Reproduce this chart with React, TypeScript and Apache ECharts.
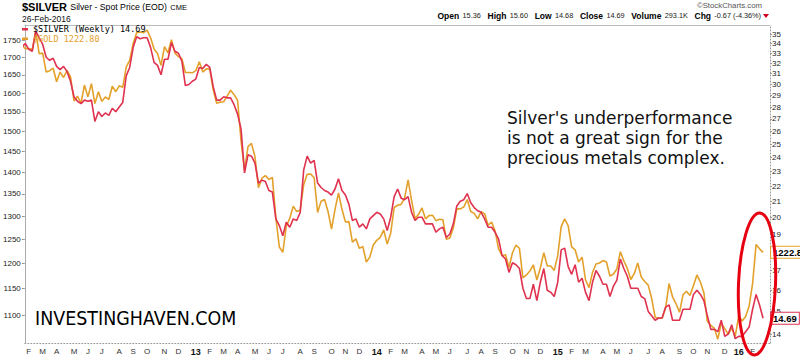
import React, { useEffect, useRef } from "react";
import * as echarts from "echarts";

// Weekly closes, week ending Fri 27-Jan-2012 ... Fri 26-Feb-2016
const silver = [
  // 2012
  33.6, 34.0, 33.4, 33.2, 35.3, 34.6, 33.9, 32.6, 32.3, 32.5, 31.7, 31.4, 31.7, 31.2, 30.3, 28.9, 28.5, 28.3, 28.6, 28.5,
  28.6, 26.8, 27.6, 27.2, 27.5, 27.3, 27.9, 27.6, 28.0, 28.4, 30.8, 31.6, 33.6, 34.7, 34.5, 34.6, 34.6, 33.6, 32.1, 31.8,
  30.9, 32.4, 32.4, 34.1, 33.2, 33.0, 32.2, 29.9, 30.0,
  // 2013
  30.3, 30.5, 31.6, 31.5, 31.9, 31.6, 29.8, 28.6, 28.6, 28.9, 28.8, 28.8, 28.2, 27.4, 26.2, 22.9, 24.2, 24.1, 23.6, 22.2,
  22.4, 22.3, 21.7, 21.6, 19.9, 19.5, 18.9, 19.7, 19.4, 19.9, 19.8, 20.3, 23.1, 24.1, 23.6, 23.8, 22.2, 21.9, 21.7, 21.6,
  21.4, 21.8, 22.5, 21.7, 21.4, 20.8, 19.8, 19.9, 19.4, 19.6, 19.3, 19.9,
  // 2014
  20.1, 20.3, 20.2, 19.9, 19.2, 20.0, 21.3, 21.8, 21.2, 21.1, 21.3, 20.3, 19.8, 20.0, 20.0, 19.6, 19.6, 19.6, 19.1, 19.3,
  19.4, 18.8, 19.0, 19.6, 20.7, 21.0, 21.1, 21.5, 20.9, 20.6, 20.4, 20.3, 19.9, 19.4, 19.4, 19.1, 18.7, 17.8, 17.6, 16.9,
  17.4, 17.3, 17.1, 16.1, 15.6, 15.6, 16.3, 15.5, 16.4, 17.1, 16.0, 15.9,
  // 2015
  15.7, 16.4, 18.1, 18.2, 17.2, 16.8, 17.3, 16.4, 16.6, 15.9, 15.5, 16.4, 17.0, 16.7, 16.3, 16.3, 15.7, 16.2, 16.5, 17.6,
  17.1, 16.7, 16.1, 16.1, 16.1, 15.7, 15.6, 15.0, 14.8, 14.6, 14.7, 14.7, 15.2, 15.3, 14.6, 14.6, 14.6, 15.1, 15.1, 15.1,
  15.8, 16.0, 15.8, 15.5, 14.8, 14.2, 14.2, 14.1, 14.6, 13.9, 14.0, 14.4,
  // 2016
  13.8, 13.9, 13.9, 14.1, 14.3, 15.1, 15.8, 15.3, 14.69,
];

const gold = [
  // 2012
  1737, 1725, 1725, 1723, 1776, 1710, 1712, 1658, 1662, 1669, 1631, 1658, 1643, 1663, 1645, 1579, 1592, 1573, 1622, 1590,
  1626, 1572, 1604, 1578, 1590, 1583, 1619, 1604, 1620, 1616, 1672, 1691, 1740, 1772, 1774, 1772, 1780, 1757, 1724, 1711,
  1677, 1731, 1713, 1751, 1712, 1702, 1696, 1657, 1657,
  // 2013
  1656, 1662, 1687, 1658, 1667, 1667, 1609, 1573, 1576, 1577, 1592, 1608, 1596, 1581, 1476, 1405, 1462, 1470, 1437, 1364,
  1386, 1392, 1383, 1388, 1297, 1234, 1223, 1278, 1295, 1322, 1310, 1313, 1371, 1395, 1396, 1387, 1308, 1333, 1337, 1310,
  1272, 1315, 1352, 1315, 1287, 1288, 1244, 1251, 1231, 1235, 1203, 1213,
  // 2014
  1238, 1248, 1254, 1270, 1240, 1263, 1319, 1324, 1326, 1340, 1382, 1335, 1294, 1304, 1318, 1294, 1301, 1302, 1290, 1293,
  1292, 1250, 1253, 1274, 1316, 1316, 1320, 1337, 1310, 1306, 1294, 1310, 1305, 1280, 1287, 1268, 1230, 1216, 1218, 1192,
  1222, 1238, 1231, 1171, 1177, 1185, 1197, 1167, 1191, 1222, 1195, 1195,
  // 2015
  1186, 1216, 1277, 1294, 1279, 1234, 1228, 1203, 1213, 1167, 1152, 1182, 1199, 1201, 1206, 1203, 1175, 1179, 1189, 1224,
  1205, 1190, 1168, 1180, 1201, 1173, 1164, 1157, 1131, 1096, 1094, 1094, 1113, 1160, 1134, 1121, 1105, 1138, 1145, 1137,
  1156, 1177, 1163, 1142, 1088, 1081, 1076, 1056, 1085, 1075, 1065, 1076,
  // 2016
  1061, 1098, 1089, 1097, 1117, 1160, 1239, 1230, 1222.8,
];

const goldTicks = [1100, 1150, 1200, 1250, 1300, 1350, 1400, 1450, 1500, 1550, 1600, 1650, 1700, 1750];
const silverTicks = [14, 15, 16, 17, 18, 19, 20, 21, 22, 23, 24, 25, 26, 27, 28, 29, 30, 31, 32, 33, 34, 35];
const monthLetters = ["J", "F", "M", "A", "M", "J", "J", "A", "S", "O", "N", "D"];

const silverName = "$SILVER (Weekly) 14.69";
const goldName = "$GOLD 1222.80";
const silverLast = "14.69";
const goldLast = "1222.80";

const SILVER_COLOR = "#e0324f";
const GOLD_COLOR = "#e3a12b";
const DAY = 86400000;
const firstWeekEnd = Date.UTC(2012, 0, 27);
// each weekly bar is plotted at the Monday that starts its week
const weekDates = silver.map((_, i) => firstWeekEnd + (i * 7 - 4) * DAY);
const xMin = Date.UTC(2012, 0, 29);
const xMax = Date.UTC(2016, 2, 7);

// month ticks: first weekly point of each month
const monthTicks: number[] = [];
const monthLabel = new Map<number, string>();
weekDates.forEach((t, i) => {
  if (i === 0) return;
  const d = new Date(t);
  const p = new Date(weekDates[i - 1]);
  if (d.getUTCMonth() !== p.getUTCMonth()) {
    monthTicks.push(t);
    const m = d.getUTCMonth();
    monthLabel.set(
      t,
      m === 0 ? `{y|${String(d.getUTCFullYear()).slice(2)}}` : monthLetters[m]
    );
  }
});

const FONT = "'Liberation Sans', Arial, sans-serif";

const findLabel = (v: number) => {
  let best = "";
  let bd = Infinity;
  monthTicks.forEach((t) => {
    const d = Math.abs(t - v);
    if (d < bd) {
      bd = d;
      best = monthLabel.get(t) || "";
    }
  });
  return bd < DAY ? best : "";
};

export default function App() {
  const ref = useRef<HTMLDivElement>(null);
  useEffect(() => {
    const chart = echarts.init(ref.current!, null, { renderer: "svg" });
    const goldLn = goldTicks.map((v) => Math.log(v));
    const silverLn = silverTicks.map((v) => Math.log(v));
    const option: any = {
      animation: false,
      textStyle: { fontFamily: FONT },
      grid: { left: 22, right: 30, top: 25, bottom: 14, containLabel: false },
      legend: {
        orient: "vertical",
        left: 22,
        top: 24.5,
        padding: 0,
        itemGap: 0,
        itemWidth: 6,
        itemHeight: 2.5,
        icon: "rect",
        selectedMode: false,
        textStyle: { fontFamily: "'DejaVu Sans Mono', monospace", fontSize: 8.5, lineHeight: 9.5 },
        data: [
          { name: silverName, textStyle: { color: "#000" } },
          { name: goldName, textStyle: { color: GOLD_COLOR } },
        ],
      },
      xAxis: [
        {
          type: "value",
          min: xMin,
          max: xMax,
          axisLine: { show: true, lineStyle: { color: "#999", type: [1, 2] } },
          axisTick: { show: false },
          splitLine: { show: false },
          axisLabel: {
            customValues: monthTicks,
            formatter: (v: number) => findLabel(v),
            fontSize: 8,
            color: "#333",
            margin: 4,
            hideOverlap: false,
            rich: { y: { fontWeight: "bold", fontSize: 9, color: "#111" } },
          },
        },
        {
          type: "value",
          position: "top",
          min: xMin,
          max: xMax,
          axisLine: { show: true, lineStyle: { color: "#bbb" } },
          axisTick: { show: false },
          axisLabel: { show: false },
          splitLine: { show: false },
        },
      ],
      yAxis: [
        {
          type: "value",
          position: "left",
          min: 6.95577,
          max: 7.49293,
          axisLine: { show: true, lineStyle: { color: "#aaa" } },
          axisTick: { show: true, length: 3, customValues: goldLn, lineStyle: { color: "#999" } },
          splitLine: { show: false },
          axisLabel: {
            customValues: goldLn,
            formatter: (v: number) => String(Math.round(Math.exp(v))),
            fontSize: 8,
            color: "#222",
            margin: 4,
          },
        },
        {
          type: "value",
          position: "right",
          min: 2.61157,
          max: 3.58284,
          axisLine: { show: true, lineStyle: { color: "#999", type: [1, 2] } },
          axisTick: { show: true, length: 2, customValues: silverLn, lineStyle: { color: "#999" } },
          splitLine: { show: false },
          axisLabel: {
            customValues: silverLn,
            formatter: (v: number) => String(Math.round(Math.exp(v))),
            fontSize: 8,
            color: "#222",
            margin: 2,
          },
        },
      ],
      series: [
        {
          name: goldName,
          type: "line",
          yAxisIndex: 0,
          xAxisIndex: 0,
          showSymbol: false,
          symbol: "none",
          color: GOLD_COLOR,
          lineStyle: { width: 1.6, color: GOLD_COLOR },
          data: gold.map((v, i) => [weekDates[i], Math.log(v)]),
          endLabel: {
            show: true,
            formatter: goldLast,
            distance: 8,
            backgroundColor: "#fff",
            borderColor: GOLD_COLOR,
            borderWidth: 1,
            padding: [1, 2, 0, 2],
            fontSize: 9.5,
            fontWeight: "bold",
            color: "#000",
          },
        },
        {
          name: silverName,
          type: "line",
          yAxisIndex: 1,
          xAxisIndex: 0,
          showSymbol: false,
          symbol: "none",
          color: SILVER_COLOR,
          lineStyle: { width: 1.6, color: SILVER_COLOR },
          data: silver.map((v, i) => [weekDates[i], Math.log(v)]),
          endLabel: {
            show: true,
            formatter: silverLast,
            distance: 8,
            backgroundColor: "#fff",
            borderColor: SILVER_COLOR,
            borderWidth: 1,
            padding: [1, 2, 0, 2],
            fontSize: 9.5,
            fontWeight: "bold",
            color: "#000",
          },
        },
      ],
      graphic: [
        {
          type: "text",
          x: 22,
          y: 7,
          style: {
            text: "{a|$SILVER} {b|Silver - Spot Price (EOD)} {c|CME}",
            verticalAlign: "middle",
            rich: {
              a: { fontFamily: FONT, fontSize: 11, fontWeight: "bold", fill: "#000" },
              b: { fontFamily: FONT, fontSize: 8.7, fill: "#000" },
              c: { fontFamily: FONT, fontSize: 7.5, fill: "#000" },
            },
          },
        },
        {
          type: "text",
          x: 22,
          y: 18.5,
          style: { text: "26-Feb-2016", font: `8.5px ${FONT}`, fill: "#111", verticalAlign: "middle" },
        },
        {
          type: "text",
          x: 762,
          y: 5,
          style: { text: "©StockCharts.com", font: `7.8px ${FONT}`, fill: "#555", align: "right", verticalAlign: "middle" },
        },
        {
          type: "text",
          x: 761,
          y: 15.5,
          style: {
            text:
              "{l|Open} {v|15.36}  {l|High} {v|15.60}  {l|Low} {v|14.68}  {l|Close} {v|14.69}  {l|Volume} {v|293.1K}  {l|Chg} {v|-0.67 (-4.36%)}",
            align: "right",
            verticalAlign: "middle",
            rich: {
              l: { fontFamily: FONT, fontSize: 8.5, fontWeight: "bold", fill: "#000" },
              v: { fontFamily: FONT, fontSize: 7.3, fill: "#222" },
            },
          },
        },
        {
          type: "polygon",
          shape: { points: [[763, 14], [769, 14], [766, 18]] },
          style: { fill: "#d0021b" },
        },
        {
          type: "text",
          x: 507,
          y: 108,
          style: {
            text: "Silver's underperformance\nis not a great sign for the\nprecious metals complex.",
            font: "17px 'DejaVu Sans', sans-serif",
            lineHeight: 20,
            fill: "#111",
            verticalAlign: "top",
          },
        },
        {
          type: "text",
          x: 35,
          y: 318,
          scaleX: 0.92,
          style: {
            text: "INVESTINGHAVEN.COM",
            font: "19px 'DejaVu Sans', sans-serif",
            fill: "#000",
            verticalAlign: "middle",
          },
        },
        {
          type: "ellipse",
          x: 757,
          y: 284,
          rotation: -0.04,
          z: 100,
          shape: { cx: 0, cy: 0, rx: 18.5, ry: 71 },
          style: { fill: "none", stroke: "#e60012", lineWidth: 3 },
        },
      ],
    };
    chart.setOption(option);
    return () => chart.dispose();
  }, []);
  return (
    <div
      ref={ref}
      style={{ position: "absolute", left: 0, top: 0, width: 800, height: 357, background: "#fff" }}
    />
  );
}
